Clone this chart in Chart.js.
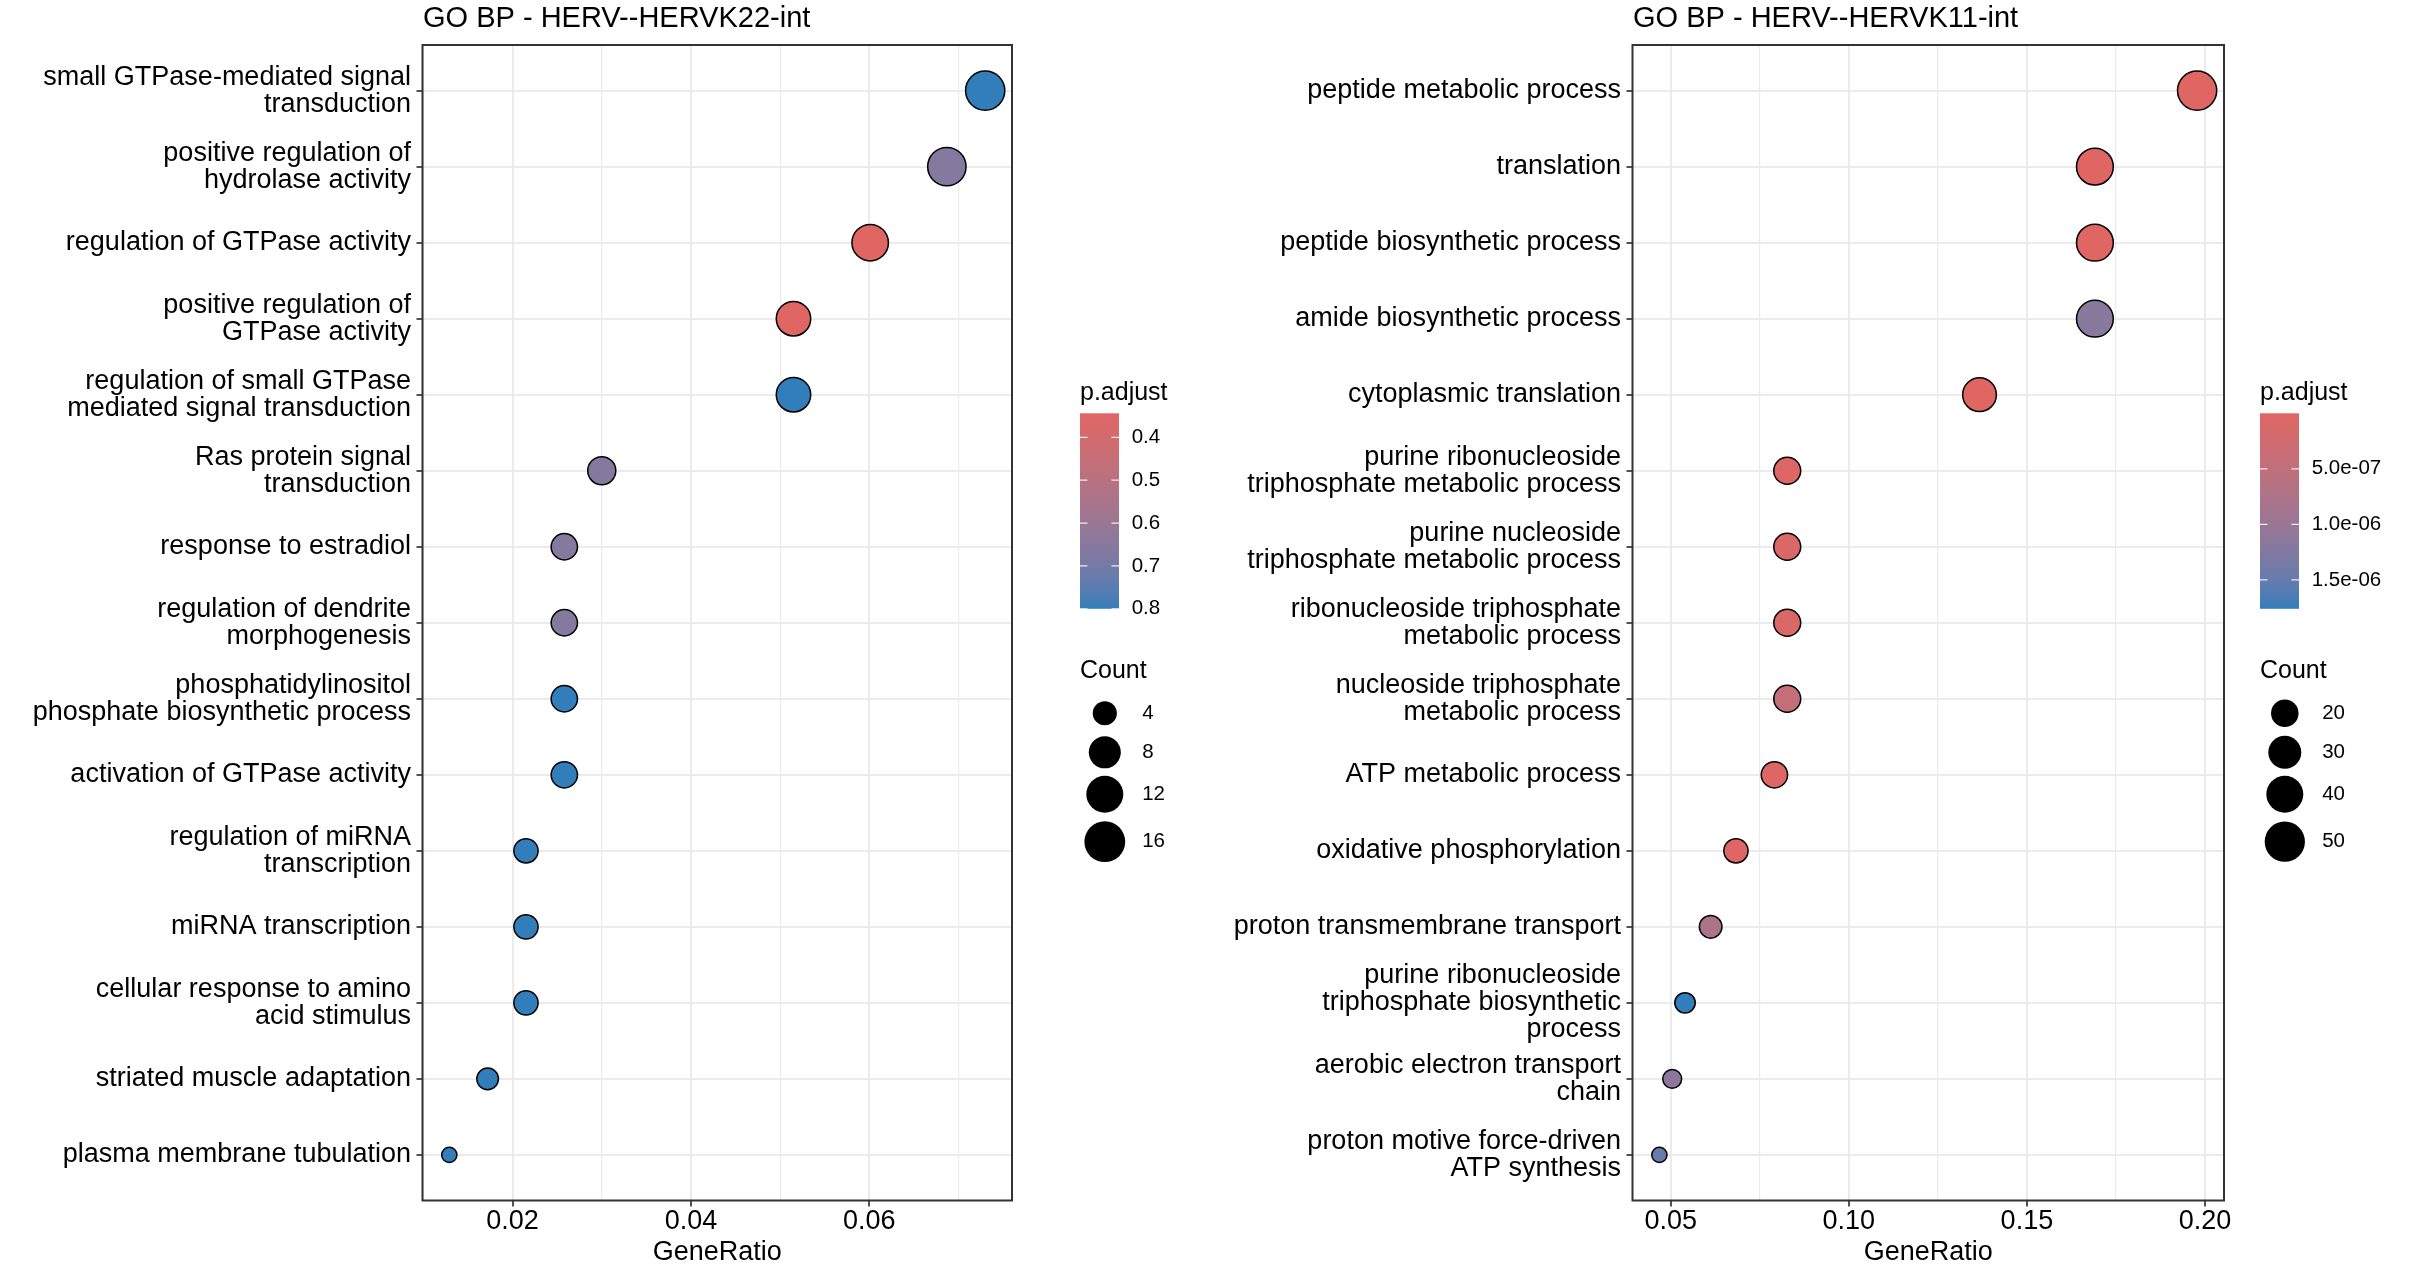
<!DOCTYPE html>
<html><head><meta charset="utf-8">
<script src="https://cdn.jsdelivr.net/npm/chart.js@4.4.0/dist/chart.umd.min.js"></script>
<style>
html,body{margin:0;padding:0;background:#fff;overflow:hidden;width:2419px;height:1276px;}
#c1{position:absolute;left:0;top:0;}
#c2{position:absolute;left:1210px;top:0;}
</style></head><body>
<canvas id="c1" width="1210" height="1276"></canvas>
<canvas id="c2" width="1209" height="1276"></canvas>
<script>
// ---------------- DATA ----------------
const leftTitle = "GO BP - HERV--HERVK22-int";
const leftTerms = [
  ["small GTPase-mediated signal", "transduction"],
  ["positive regulation of", "hydrolase activity"],
  "regulation of GTPase activity",
  ["positive regulation of", "GTPase activity"],
  ["regulation of small GTPase", "mediated signal transduction"],
  ["Ras protein signal", "transduction"],
  "response to estradiol",
  ["regulation of dendrite", "morphogenesis"],
  ["phosphatidylinositol", "phosphate biosynthetic process"],
  "activation of GTPase activity",
  ["regulation of miRNA", "transcription"],
  "miRNA transcription",
  ["cellular response to amino", "acid stimulus"],
  "striated muscle adaptation",
  "plasma membrane tubulation"
];
const leftGeneRatio = [0.0730, 0.0687, 0.0601, 0.0515, 0.0515, 0.0300, 0.0258, 0.0258, 0.0258, 0.0258, 0.0215, 0.0215, 0.0215, 0.0172, 0.0129];
const leftCount     = [17, 16, 14, 12, 12, 7, 6, 6, 6, 6, 5, 5, 5, 4, 3];
const leftPadjust   = [0.800, 0.660, 0.344, 0.344, 0.800, 0.660, 0.660, 0.660, 0.800, 0.800, 0.800, 0.800, 0.800, 0.800, 0.800];
const leftXMajor = [0.02, 0.04, 0.06];
const leftXMinor = [0.01, 0.03, 0.05, 0.07];
const leftPBreaks = [0.4, 0.5, 0.6, 0.7, 0.8];
const leftPBreakLabels = ["0.4", "0.5", "0.6", "0.7", "0.8"];
const leftCountBreaks = [4, 8, 12, 16];

const rightTitle = "GO BP - HERV--HERVK11-int";
const rightTerms = [
  "peptide metabolic process",
  "translation",
  "peptide biosynthetic process",
  "amide biosynthetic process",
  "cytoplasmic translation",
  ["purine ribonucleoside", "triphosphate metabolic process"],
  ["purine nucleoside", "triphosphate metabolic process"],
  ["ribonucleoside triphosphate", "metabolic process"],
  ["nucleoside triphosphate", "metabolic process"],
  "ATP metabolic process",
  "oxidative phosphorylation",
  "proton transmembrane transport",
  ["purine ribonucleoside", "triphosphate biosynthetic", "process"],
  ["aerobic electron transport", "chain"],
  ["proton motive force-driven", "ATP synthesis"]
];
const rightGeneRatio = [0.1978, 0.1691, 0.1691, 0.1691, 0.1367, 0.0827, 0.0827, 0.0827, 0.0827, 0.0791, 0.0683, 0.0612, 0.0540, 0.0504, 0.0468];
const rightCount     = [55, 47, 47, 47, 38, 23, 23, 23, 23, 22, 19, 17, 15, 14, 13];
const rightPadjust   = [2.1e-10, 3.5e-10, 3.5e-10, 1.18e-6, 1.2e-10, 5.5e-8, 1.0e-7, 1.05e-7, 4.3e-7, 3.8e-8, 2.0e-8, 7.9e-7, 1.76e-6, 1.15e-6, 1.48e-6];
const rightXMajor = [0.05, 0.10, 0.15, 0.20];
const rightXMinor = [0.075, 0.125, 0.175];
const rightPBreaks = [5e-7, 1e-6, 1.5e-6];
const rightPBreakLabels = ["5.0e-07", "1.0e-06", "1.5e-06"];
const rightCountBreaks = [20, 30, 40, 50];

// ---------------- STYLE / HELPERS ----------------
const FAMILY = '"Liberation Sans", Arial, Helvetica, sans-serif';
Chart.defaults.font.family = FAMILY;
const LOW_COL = '#e06663', HIGH_COL = '#327eba';

function hex2rgb(h){return [1,3,5].map(i=>parseInt(h.substr(i,2),16));}
function lin(c){c/=255;return c<=0.04045?c/12.92:Math.pow((c+0.055)/1.055,2.4);}
function unlin(c){const v=c<=0.0031308?12.92*c:1.055*Math.pow(c,1/2.4)-0.055;return Math.max(0,Math.min(255,Math.round(v*255)));}
const WX=0.95047,WY=1.0,WZ=1.08883;
function fL(t){return t>0.008856?Math.cbrt(t):(7.787*t+16/116);}
function fLi(t){const t3=t*t*t;return t3>0.008856?t3:(t-16/116)/7.787;}
function rgb2lab(rgb){const [r,g,b]=rgb.map(lin);
  const X=(0.4124*r+0.3576*g+0.1805*b)/WX,Y=(0.2126*r+0.7152*g+0.0722*b)/WY,Z=(0.0193*r+0.1192*g+0.9505*b)/WZ;
  const fx=fL(X),fy=fL(Y),fz=fL(Z);return [116*fy-16,500*(fx-fy),200*(fy-fz)];}
function lab2rgb(l){const fy=(l[0]+16)/116,fx=fy+l[1]/500,fz=fy-l[2]/200;
  const X=fLi(fx)*WX,Y=fLi(fy)*WY,Z=fLi(fz)*WZ;
  return [unlin(3.2406*X-1.5372*Y-0.4986*Z),unlin(-0.9689*X+1.8758*Y+0.0415*Z),unlin(0.0557*X-0.2040*Y+1.0570*Z)];}
const LAB_LO=rgb2lab(hex2rgb(LOW_COL)), LAB_HI=rgb2lab(hex2rgb(HIGH_COL));
function rampColor(t){t=Math.max(0,Math.min(1,t));const l=LAB_LO.map((v,i)=>v+(LAB_HI[i]-v)*t);const c=lab2rgb(l);return `rgb(${c[0]},${c[1]},${c[2]})`;}

// ggplot-like size scale: range c(3,8), area proportional
function sizeOf(c,cmin,cmax){return 3+5*Math.sqrt((c-cmin)/(cmax-cmin));}
function diamOf(c,cmin,cmax){return 4.8*sizeOf(c,cmin,cmax)+2.3;}
const BORDER_W = 1.5;

const PLOT_TOP = 45, PLOT_BOTTOM = 1200.5, PLOT_LEFT = 422.5, CANVAS_H = 1276;
const KEY_Y = [713.3, 752.3, 794.3, 841.7];

function makePanel(P){
  const n = P.terms.length;
  const cmin = Math.min(...P.count), cmax = Math.max(...P.count);
  const pmin = Math.min(...P.padj), pmax = Math.max(...P.padj);
  const xr0 = Math.min(...P.ratio), xr1 = Math.max(...P.ratio);
  const xexp = (xr1 - xr0) * 0.05;
  const allX = P.xMajor.concat(P.xMinor).sort((a,b)=>a-b);
  const isMajor = v => P.xMajor.some(m => Math.abs(m - v) < 1e-9);
  const colorOfP = p => rampColor((p - pmin) / (pmax - pmin));

  const deco = {
    id: 'deco',
    afterDatasetsDraw(chart){
      const {ctx, chartArea:a} = chart;
      ctx.save();
      ctx.strokeStyle = '#333333'; ctx.lineWidth = 2;
      ctx.strokeRect(a.left, a.top, a.right - a.left, a.bottom - a.top);
      ctx.restore();
    },
    afterDraw(chart){
      const {ctx, chartArea:a} = chart;
      ctx.save();
      // plot title
      ctx.fillStyle = '#000'; ctx.textAlign = 'left'; ctx.textBaseline = 'alphabetic';
      ctx.font = `29px ${FAMILY}`;
      ctx.fillText(P.title, a.left + 0.5, 26.7);
      // colour bar legend
      const bx = P.legendX, bt = 413.3, bb = 608.8, bw = 39;
      ctx.font = `25px ${FAMILY}`;
      ctx.fillText('p.adjust', bx, 399.5);
      const g = ctx.createLinearGradient(0, bt, 0, bb);
      for (let i = 0; i <= 24; i++) g.addColorStop(i/24, rampColor(i/24));
      ctx.fillStyle = g; ctx.fillRect(bx, bt, bw, bb - bt);
      ctx.strokeStyle = 'rgba(255,255,255,0.85)'; ctx.lineWidth = 1.2;
      ctx.font = `20.5px ${FAMILY}`; ctx.textBaseline = 'middle';
      P.pBreaks.forEach((v, i) => {
        const y = bt + (v - pmin) / (pmax - pmin) * (bb - bt);
        ctx.beginPath();
        ctx.moveTo(bx, y); ctx.lineTo(bx + 7.5, y);
        ctx.moveTo(bx + bw - 7.5, y); ctx.lineTo(bx + bw, y);
        ctx.stroke();
        ctx.fillStyle = '#000';
        ctx.fillText(P.pBreakLabels[i], bx + bw + 12.7, y);
      });
      // size legend
      ctx.textBaseline = 'alphabetic'; ctx.font = `25px ${FAMILY}`;
      ctx.fillText('Count', bx, 678);
      ctx.font = `20.5px ${FAMILY}`; ctx.textBaseline = 'middle';
      P.countBreaks.forEach((c, i) => {
        const y = KEY_Y[i], d = diamOf(c, cmin, cmax);
        ctx.beginPath(); ctx.arc(bx + 24.8, y, d/2 + 0.5, 0, Math.PI*2);
        ctx.fillStyle = '#000'; ctx.fill();
        ctx.fillText(String(c), bx + 62.2, y);
      });
      ctx.restore();
    }
  };

  return new Chart(document.getElementById(P.canvas), {
    type: 'scatter',
    data: { datasets: [{
      data: P.ratio.map((r, i) => ({x: r, y: i})),
      pointRadius: ctx => (diamOf(P.count[ctx.dataIndex], cmin, cmax) - BORDER_W) / 2,
      pointBackgroundColor: ctx => colorOfP(P.padj[ctx.dataIndex]),
      pointBorderColor: '#000000',
      pointBorderWidth: BORDER_W,
      clip: false
    }]},
    options: {
      responsive: false, animation: false, events: [],
      layout: { padding: { top: PLOT_TOP, right: P.width - P.plotRight, left: 0, bottom: 0 } },
      plugins: { legend: {display: false}, tooltip: {enabled: false}, title: {display: false} },
      scales: {
        x: {
          type: 'linear', position: 'bottom',
          min: xr0 - xexp, max: xr1 + xexp,
          afterBuildTicks: s => { s.ticks = allX.map(v => ({value: v})); },
          afterFit: s => { s.height = CANVAS_H - PLOT_BOTTOM; },
          ticks: { autoSkip: false, maxRotation: 0, minRotation: 0, padding: 1.5, color: '#000',
            font: {size: 27, lineHeight: 1.0},
            callback: v => isMajor(v) ? v.toFixed(2) : '' },
          grid: { color: '#EBEBEB',
            lineWidth: c => (c.tick && isMajor(c.tick.value)) ? 2 : 1.2,
            tickColor: c => (c.tick && isMajor(c.tick.value)) ? '#333333' : 'rgba(0,0,0,0)',
            tickLength: 6, tickWidth: 1.7 },
          border: { display: false },
          title: { display: true, text: 'GeneRatio', color: '#000', font: {size: 27}, padding: {top: 0, bottom: 7} }
        },
        y: {
          type: 'linear', position: 'left', reverse: true,
          min: -0.6, max: n - 1 + 0.6,
          afterBuildTicks: s => { s.ticks = P.terms.map((t, i) => ({value: i})); },
          afterFit: s => { s.width = PLOT_LEFT; },
          ticks: { autoSkip: false, padding: 5.5, color: '#000', font: {size: 27, lineHeight: 1.0},
            callback: v => P.terms[Math.round(v)] },
          grid: { color: '#EBEBEB', lineWidth: 2, tickColor: '#333333', tickLength: 6, tickWidth: 1.7 },
          border: { display: false }
        }
      }
    },
    plugins: [deco]
  });
}

makePanel({canvas: 'c1', width: 1210, plotRight: 1012, legendX: 1080, title: leftTitle,
  terms: leftTerms, ratio: leftGeneRatio, count: leftCount, padj: leftPadjust,
  xMajor: leftXMajor, xMinor: leftXMinor, pBreaks: leftPBreaks, pBreakLabels: leftPBreakLabels,
  countBreaks: leftCountBreaks});
makePanel({canvas: 'c2', width: 1209, plotRight: 1014, legendX: 1050, title: rightTitle,
  terms: rightTerms, ratio: rightGeneRatio, count: rightCount, padj: rightPadjust,
  xMajor: rightXMajor, xMinor: rightXMinor, pBreaks: rightPBreaks, pBreakLabels: rightPBreakLabels,
  countBreaks: rightCountBreaks});
</script>
</body></html>
